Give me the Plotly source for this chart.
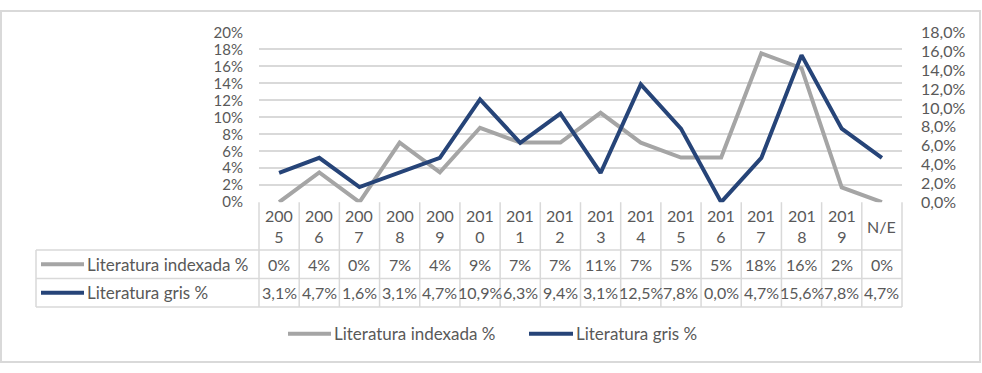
import plotly.graph_objects as go

# ---------------- data ----------------
categories = ["2005", "2006", "2007", "2008", "2009", "2010", "2011", "2012",
              "2013", "2014", "2015", "2016", "2017", "2018", "2019", "N/E"]
indexada = [0, 3.51, 0, 7.02, 3.51, 8.77, 7.02, 7.02,
            10.53, 7.02, 5.26, 5.26, 17.54, 15.79, 1.75, 0]
gris = [3.1, 4.7, 1.6, 3.1, 4.7, 10.9, 6.3, 9.4,
        3.1, 12.5, 7.8, 0.0, 4.7, 15.6, 7.8, 4.7]
series_names = ["Literatura indexada %", "Literatura gris %"]
left_ticks = [0, 2, 4, 6, 8, 10, 12, 14, 16, 18, 20]
right_ticks = [0, 2, 4, 6, 8, 10, 12, 14, 16, 18]

# ---------------- styling / layout ----------------
W, H = 982, 373
PL, PR, PT, PB = 259, 902, 23.7, 202.5
ROW1_B, ROW2_B, ROW3_B = 253, 283, 313
TABLE_L = 36
GRAY = "#A5A5A5"
NAVY = "#264478"
TXT = "#595959"
GRID = "#D9D9D9"
FONT = "Lato"
FS = 16
FS_LABEL = 17
FS_LEFT = 15

def px(x):
    return x / W

def py(y):
    return 1 - y / H

n = len(categories)
xs = list(range(n))
colw = (PR - PL) / n

fig = go.Figure()
fig.add_trace(go.Scatter(x=xs, y=indexada, mode="lines", name=series_names[0],
                         line=dict(color=GRAY, width=4), yaxis="y", showlegend=False))
fig.add_trace(go.Scatter(x=xs, y=gris, mode="lines", name=series_names[1],
                         line=dict(color=NAVY, width=4), yaxis="y2", showlegend=False))

shapes = []
annotations = []

# table vertical lines
for i in range(n + 1):
    x = PL + i * colw
    shapes.append(dict(type="line", xref="paper", yref="paper",
                       x0=px(x), x1=px(x), y0=py(PB), y1=py(ROW3_B),
                       line=dict(color=GRID, width=1.5)))
shapes.append(dict(type="line", xref="paper", yref="paper",
                   x0=px(TABLE_L), x1=px(TABLE_L), y0=py(ROW1_B), y1=py(ROW3_B),
                   line=dict(color=GRID, width=1.5)))
for yb in (ROW1_B, ROW2_B, ROW3_B):
    shapes.append(dict(type="line", xref="paper", yref="paper",
                       x0=px(TABLE_L), x1=px(PR), y0=py(yb), y1=py(yb),
                       line=dict(color=GRID, width=1.5)))

# header row (categories)
for i, c in enumerate(categories):
    label = c[:3] + "<br>" + c[3:] if len(c) == 4 else c
    annotations.append(dict(x=i, xref="x", y=py((PB + ROW1_B) / 2), yref="paper",
                            text=label, showarrow=False, yanchor="middle",
                            font=dict(family=FONT, size=FS, color=TXT)))

# value rows
rows = [
    (indexada, [f"{v:.0f}%" for v in indexada], GRAY, series_names[0], (ROW1_B + ROW2_B) / 2),
    (gris, [f"{v:.1f}%".replace(".", ",") for v in gris], NAVY, series_names[1], (ROW2_B + ROW3_B) / 2),
]
for vals, labels, color, name, yc in rows:
    for i, lab in enumerate(labels):
        annotations.append(dict(x=i, xref="x", y=py(yc), yref="paper", text=lab,
                                showarrow=False, yanchor="middle",
                                font=dict(family=FONT, size=FS, color=TXT)))
    shapes.append(dict(type="line", xref="paper", yref="paper",
                       x0=px(41), x1=px(84), y0=py(yc), y1=py(yc),
                       line=dict(color=color, width=4)))
    annotations.append(dict(x=px(85), xref="paper", y=py(yc), yref="paper", text=name,
                            showarrow=False, xanchor="left", yanchor="middle",
                            font=dict(family=FONT, size=FS_LABEL, color=TXT)))

# legend (bottom)
LEG_Y = 341
for (x0, x1), color, name in [((288, 331), GRAY, series_names[0]),
                              ((529, 573), NAVY, series_names[1])]:
    shapes.append(dict(type="line", xref="paper", yref="paper",
                       x0=px(x0), x1=px(x1), y0=py(LEG_Y), y1=py(LEG_Y),
                       line=dict(color=color, width=4)))
    annotations.append(dict(x=px(x1 + 1), xref="paper", y=py(LEG_Y), yref="paper",
                            text=name, showarrow=False, xanchor="left", yanchor="middle",
                            font=dict(family=FONT, size=FS_LABEL, color=TXT)))

# outer border
shapes.append(dict(type="rect", xref="paper", yref="paper",
                   x0=px(1), x1=px(980), y0=py(1), y1=py(371),
                   line=dict(color=GRID, width=2), fillcolor="rgba(0,0,0,0)"))

fig.update_layout(
    width=W, height=H,
    margin=dict(l=0, r=0, t=0, b=0),
    paper_bgcolor="white", plot_bgcolor="white",
    font=dict(family=FONT, size=FS, color=TXT),
    xaxis=dict(domain=[px(PL), px(PR)], range=[-0.5, n - 0.5], showticklabels=False,
               showgrid=False, zeroline=False, showline=False, fixedrange=True),
    yaxis=dict(domain=[py(PB), py(PT)], range=[0, 20], tickvals=left_ticks,
               ticktext=[f"{v}%" for v in left_ticks], showgrid=True,
               gridcolor=GRID, gridwidth=1.5, zeroline=False, showline=False,
               ticks="", ticklabelstandoff=15,
               tickfont=dict(family=FONT, size=FS_LEFT, color=TXT)),
    yaxis2=dict(domain=[py(PB), py(PT)], range=[0, 18], overlaying="y", side="right",
                tickvals=right_ticks,
                ticktext=[f"{v:.1f}%".replace(".", ",") for v in right_ticks],
                showgrid=False, zeroline=False, showline=False, ticks="",
                ticklabelstandoff=18,
                tickfont=dict(family=FONT, size=FS, color=TXT)),
    shapes=shapes,
    annotations=annotations,
    showlegend=False,
)

fig.write_html("out.html")
